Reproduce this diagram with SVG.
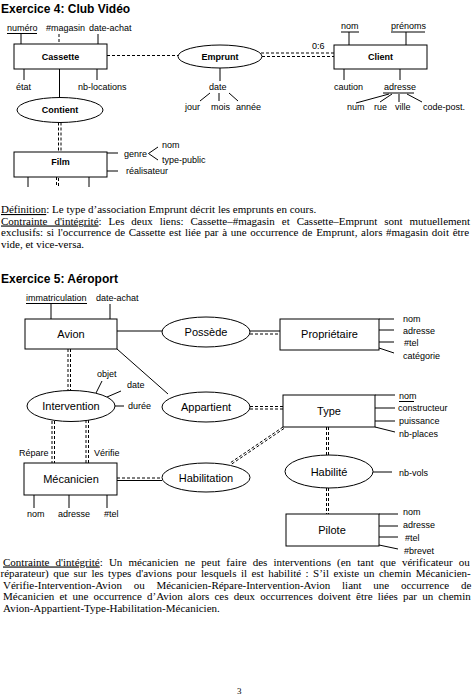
<svg xmlns="http://www.w3.org/2000/svg" width="474" height="695" viewBox="0 0 474 695">
<style>
.bg{fill:#fff}
.ln{stroke:#000;stroke-width:1;fill:none}
.ds{stroke:#000;stroke-width:1;fill:none;stroke-dasharray:3,2}
.box{fill:#fff;stroke:#000;stroke-width:1}
.title{font-family:"Liberation Sans",Arial,sans-serif;font-size:12px;font-weight:bold;fill:#000}
.a{font-family:"Liberation Sans",Arial,sans-serif;font-size:9px;fill:#000}
.b{font-family:"Liberation Sans",Arial,sans-serif;font-size:9px;font-weight:bold;fill:#000;text-anchor:middle}
.n{font-family:"Liberation Sans",Arial,sans-serif;font-size:11px;fill:#000;text-anchor:middle}
.body{font-family:"Liberation Serif","Times New Roman",serif;font-size:11px;fill:#000}
</style>
<rect class="bg" x="0" y="0" width="474" height="695"/>

<text class="title" x="1" y="13">Exercice 4: Club Vidéo</text>

<g id="connectors">
  <!-- Exercise 4 -->
  <line class="ds" x1="107" y1="55.5" x2="178" y2="55.5"/>
  <line class="ds" x1="261" y1="53" x2="334" y2="53"/>
  <line class="ds" x1="262" y1="56.5" x2="334" y2="56.5"/>
  <line class="ln" x1="59.5" y1="69" x2="59.5" y2="97.5"/>
  <line class="ds" x1="58.5" y1="122.5" x2="58.5" y2="152"/>
  <line class="ds" x1="61" y1="122.5" x2="61" y2="152"/>
  <!-- Exercise 5 -->
  <line class="ln" x1="117" y1="331" x2="162" y2="331"/>
  <line class="ln" x1="250" y1="331" x2="280" y2="331"/>
  <line class="ds" x1="250" y1="334" x2="280" y2="334"/>
  <line class="ds" x1="68" y1="349" x2="68" y2="390.5"/>
  <line class="ds" x1="70.5" y1="349" x2="70.5" y2="390.5"/>
  <line class="ln" x1="117" y1="349" x2="168" y2="394"/>
  <line class="ds" x1="250" y1="406.5" x2="283" y2="406.5"/>
  <line class="ds" x1="250" y1="409" x2="283" y2="409"/>
  <line class="ds" x1="326.5" y1="427" x2="326.5" y2="455"/>
  <line class="ds" x1="328.5" y1="427" x2="328.5" y2="455"/>
  <line class="ds" x1="326.5" y1="488" x2="326.5" y2="514"/>
  <line class="ds" x1="328.5" y1="488" x2="328.5" y2="514"/>
  <line class="ds" x1="283" y1="427" x2="230" y2="463"/>
  <line class="ds" x1="284" y1="428.5" x2="231" y2="464.5"/>
  <line class="ds" x1="52" y1="421" x2="52" y2="463"/>
  <line class="ds" x1="54.5" y1="421" x2="54.5" y2="463"/>
  <line class="ds" x1="86" y1="420" x2="86" y2="463"/>
  <line class="ds" x1="88.5" y1="420" x2="88.5" y2="463"/>
  <line class="ds" x1="117" y1="478" x2="162" y2="478"/>
  <line class="ln" x1="117" y1="480.5" x2="162" y2="480.5"/>
</g>

<!-- Exercise 4 nodes -->
<g id="cassette">
  <rect class="box" x="14" y="44" width="93" height="25"/>
  <text class="b" x="60.5" y="60">Cassette</text>
  <text class="a" x="7" y="31">numéro</text>
  <line class="ln" x1="7" y1="33.5" x2="37" y2="33.5"/>
  <line class="ln" x1="21" y1="33.5" x2="21" y2="44"/>
  <text class="a" x="46" y="31">#magasin</text>
  <line class="ds" x1="59" y1="34" x2="59" y2="44"/>
  <text class="a" x="89" y="31">date-achat</text>
  <line class="ln" x1="98" y1="34" x2="98" y2="44"/>
  <text class="a" x="16" y="90">état</text>
  <line class="ln" x1="24" y1="69" x2="24" y2="80"/>
  <text class="a" x="78" y="90">nb-locations</text>
  <line class="ln" x1="97" y1="69" x2="97" y2="80"/>
</g>
<g id="contient">
  <ellipse class="box" cx="60" cy="110" rx="43" ry="12.5"/>
  <text class="b" x="60" y="113">Contient</text>
</g>
<g id="film">
  <rect class="box" x="14" y="152" width="93" height="25"/>
  <text class="b" x="60.5" y="165">Film</text>
  <line class="ln" x1="28" y1="177" x2="28" y2="187"/>
  <line class="ds" x1="56.5" y1="177" x2="56.5" y2="187"/>
  <line class="ds" x1="58.5" y1="178" x2="58.5" y2="187"/>
  <line class="ln" x1="89" y1="177" x2="89" y2="187"/>
  <line class="ln" x1="107" y1="153" x2="118" y2="153"/>
  <text class="a" x="124" y="157">genre</text>
  <polyline class="ln" points="158,147 148.5,153.5 158,160"/>
  <text class="a" x="162" y="148">nom</text>
  <text class="a" x="162" y="163">type-public</text>
  <line class="ln" x1="107" y1="171" x2="118" y2="171"/>
  <text class="a" x="126" y="174">réalisateur</text>
</g>
<g id="emprunt">
  <ellipse class="box" cx="220" cy="56.5" rx="42" ry="11.5"/>
  <text class="b" x="220" y="60">Emprunt</text>
  <text class="a" x="312" y="49">0:6</text>
  <line class="ln" x1="220" y1="68" x2="220" y2="81"/>
  <text class="a" x="209" y="90">date</text>
  <line class="ln" x1="210" y1="93" x2="200" y2="101"/>
  <line class="ln" x1="219" y1="93" x2="219" y2="101"/>
  <line class="ln" x1="229" y1="93" x2="238" y2="101"/>
  <text class="a" x="185" y="110">jour</text>
  <text class="a" x="211" y="110">mois</text>
  <text class="a" x="236" y="110">année</text>
</g>
<g id="client">
  <rect class="box" x="334" y="45" width="93" height="24"/>
  <text class="b" x="380.5" y="60">Client</text>
  <text class="a" x="341" y="29">nom</text>
  <line class="ln" x1="341" y1="32" x2="359" y2="32"/>
  <line class="ln" x1="349" y1="32" x2="349" y2="45"/>
  <text class="a" x="391" y="29">prénoms</text>
  <line class="ln" x1="391" y1="32" x2="425" y2="32"/>
  <line class="ln" x1="406" y1="32" x2="406" y2="45"/>
  <text class="a" x="334" y="90">caution</text>
  <line class="ln" x1="344" y1="69" x2="344" y2="80"/>
  <text class="a" x="384" y="90">adresse</text>
  <line class="ln" x1="400" y1="69" x2="400" y2="80"/>
  <line class="ln" x1="383" y1="93" x2="414" y2="93"/>
  <line class="ln" x1="389" y1="94" x2="356" y2="103"/>
  <line class="ln" x1="392" y1="94" x2="380" y2="102"/>
  <line class="ln" x1="399" y1="94" x2="399" y2="102"/>
  <line class="ln" x1="407" y1="94" x2="422" y2="102"/>
  <text class="a" x="347" y="110">num</text>
  <text class="a" x="374" y="110">rue</text>
  <text class="a" x="395" y="110">ville</text>
  <text class="a" x="423" y="110">code-post.</text>
</g>

<g id="text-ex4">
  <text class="body" x="1" y="213"><tspan text-decoration="underline">Définition</tspan>: Le type d’association Emprunt décrit les emprunts en cours.</text>
  <text class="body" x="1" y="224.5" word-spacing="4.2"><tspan text-decoration="underline">Contrainte d'intégrité</tspan>: Les deux liens: Cassette–#magasin et Cassette–Emprunt sont mutuellement</text>
  <text class="body" x="1" y="236" word-spacing="0.9">exclusifs: si l'occurrence de Cassette est liée par à une occurrence de Emprunt, alors #magasin doit être</text>
  <text class="body" x="1" y="247.5">vide, et vice-versa.</text>
</g>

<text class="title" x="1" y="283">Exercice 5: Aéroport</text>

<!-- Exercise 5 nodes -->
<g id="avion">
  <rect class="box" x="25" y="319" width="92" height="30"/>
  <text class="n" x="71" y="338">Avion</text>
  <text class="a" x="26" y="301">immatriculation</text>
  <line class="ln" x1="26" y1="303.5" x2="87" y2="303.5"/>
  <line class="ln" x1="51" y1="303.5" x2="51" y2="319"/>
  <text class="a" x="96" y="301">date-achat</text>
  <line class="ln" x1="110" y1="304" x2="110" y2="319"/>
</g>
<g id="possede">
  <ellipse class="box" cx="206" cy="332" rx="44" ry="15"/>
  <text class="n" x="206" y="336">Possède</text>
</g>
<g id="proprietaire">
  <rect class="box" x="280" y="319" width="99" height="31"/>
  <text class="n" x="329.5" y="338">Propriétaire</text>
  <line class="ln" x1="379" y1="319" x2="394" y2="319"/>
  <line class="ln" x1="379" y1="330" x2="394" y2="330"/>
  <line class="ln" x1="379" y1="342" x2="394" y2="342"/>
  <line class="ln" x1="379" y1="348" x2="394" y2="353"/>
  <text class="a" x="403" y="322">nom</text>
  <text class="a" x="403" y="334">adresse</text>
  <text class="a" x="404" y="346">#tel</text>
  <text class="a" x="403" y="359">catégorie</text>
</g>
<g id="intervention">
  <ellipse class="box" cx="71" cy="406" rx="44" ry="15.5"/>
  <text class="n" x="71" y="410">Intervention</text>
  <line class="ln" x1="96" y1="393" x2="102" y2="381"/>
  <text class="a" x="97" y="377">objet</text>
  <line class="ln" x1="107" y1="397" x2="121" y2="391"/>
  <text class="a" x="127" y="388">date</text>
  <line class="ln" x1="115" y1="406" x2="124" y2="406"/>
  <text class="a" x="128" y="409">durée</text>
</g>
<g id="appartient">
  <ellipse class="box" cx="206" cy="407" rx="44" ry="15"/>
  <text class="n" x="206" y="411">Appartient</text>
</g>
<g id="type">
  <rect class="box" x="283" y="395" width="92" height="32"/>
  <text class="n" x="329" y="415">Type</text>
  <line class="ln" x1="375" y1="395" x2="395" y2="395"/>
  <line class="ln" x1="375" y1="408" x2="395" y2="408"/>
  <line class="ln" x1="375" y1="421" x2="395" y2="421"/>
  <line class="ln" x1="375" y1="427" x2="395" y2="432"/>
  <text class="a" x="399" y="399">nom</text>
  <line class="ln" x1="399" y1="401.5" x2="414" y2="401.5"/>
  <text class="a" x="398" y="411">constructeur</text>
  <text class="a" x="399" y="424">puissance</text>
  <text class="a" x="399" y="436.5">nb-places</text>
</g>
<g id="habilite">
  <ellipse class="box" cx="329" cy="471.5" rx="44" ry="16.5"/>
  <text class="n" x="329" y="476">Habilité</text>
  <line class="ln" x1="373" y1="472" x2="392" y2="472"/>
  <text class="a" x="399" y="476">nb-vols</text>
</g>
<g id="pilote">
  <rect class="box" x="286" y="514" width="93" height="32"/>
  <text class="n" x="332" y="534">Pilote</text>
  <line class="ln" x1="379" y1="514" x2="398" y2="514"/>
  <line class="ln" x1="379" y1="526" x2="398" y2="526"/>
  <line class="ln" x1="379" y1="537" x2="398" y2="537"/>
  <line class="ln" x1="379" y1="545" x2="398" y2="549"/>
  <text class="a" x="403" y="515">nom</text>
  <text class="a" x="403" y="528">adresse</text>
  <text class="a" x="405" y="541">#tel</text>
  <text class="a" x="404" y="554">#brevet</text>
</g>
<g id="habilitation">
  <ellipse class="box" cx="206" cy="477.5" rx="44" ry="14.5"/>
  <text class="n" x="206" y="481.5">Habilitation</text>
</g>
<g id="mecanicien">
  <rect class="box" x="24" y="463" width="93" height="32"/>
  <text class="n" x="71" y="483">Mécanicien</text>
  <text class="a" x="19" y="456">Répare</text>
  <text class="a" x="94" y="456">Vérifie</text>
  <line class="ln" x1="34" y1="495" x2="34" y2="508"/>
  <line class="ln" x1="69" y1="495" x2="69" y2="508"/>
  <line class="ln" x1="107" y1="495" x2="107" y2="508"/>
  <text class="a" x="27" y="517">nom</text>
  <text class="a" x="58" y="517">adresse</text>
  <text class="a" x="104" y="517">#tel</text>
</g>

<g id="text-ex5">
  <text class="body" x="3" y="565.5" word-spacing="3.4"><tspan text-decoration="underline">Contrainte d'intégrité</tspan>: Un mécanicien ne peut faire des interventions (en tant que vérificateur ou</text>
  <text class="body" x="0.5" y="577" word-spacing="1.7">réparateur) que sur les types d'avions pour lesquels il est habilité : S’il existe un chemin Mécanicien-</text>
  <text class="body" x="3" y="588.5" word-spacing="9">Vérifie-Intervention-Avion ou Mécanicien-Répare-Intervention-Avion liant une occurrence de</text>
  <text class="body" x="3" y="600" word-spacing="2.4">Mécanicien et une occurrence d’Avion alors ces deux occurrences doivent être liées par un chemin</text>
  <text class="body" x="3" y="611.5">Avion-Appartient-Type-Habilitation-Mécanicien.</text>
  <text class="body" x="237" y="694" style="font-size:9px">3</text>
</g>
</svg>
